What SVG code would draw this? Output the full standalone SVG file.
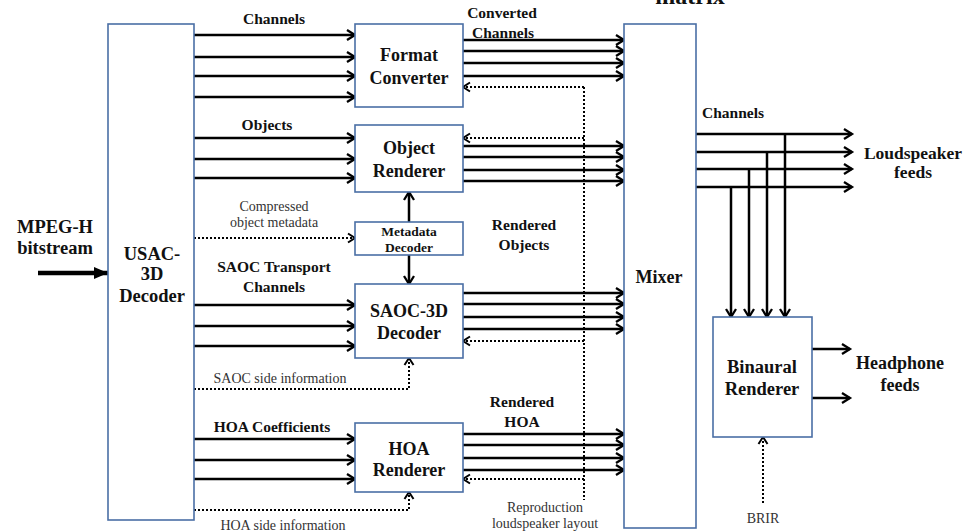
<svg xmlns="http://www.w3.org/2000/svg" width="976" height="531" viewBox="0 0 976 531" font-family="'Liberation Serif', 'Times New Roman', Tinos, serif">
  <style>
    .box { fill: #ffffff; stroke: #4a6fa5; stroke-width: 1.6; }
    text { font-family: 'Liberation Serif', 'Times New Roman', Tinos, serif; }
    .lbl { font-weight: bold; fill: #111; text-anchor: middle; }
    .note { font-size: 14px; fill: #333; text-anchor: middle; }
    .sig { stroke: #000; stroke-width: 2.5; fill: none; marker-end: url(#chev); }
    .line { stroke: #000; stroke-width: 2.5; fill: none; }
    .dot { stroke: #000; stroke-width: 2; stroke-dasharray: 2 2; fill: none; }
    .doth { stroke: #000; stroke-width: 2; stroke-dasharray: 2 2; fill: none; marker-end: url(#chevs); }
  </style>
  <defs>
    <marker id="chev" markerUnits="userSpaceOnUse" markerWidth="14" markerHeight="14" refX="10" refY="7" orient="auto" overflow="visible">
      <path d="M2,2 L10,7 L2,12" fill="none" stroke="#000" stroke-width="2.3"/>
    </marker>
    <marker id="chevs" markerUnits="userSpaceOnUse" markerWidth="12" markerHeight="12" refX="8" refY="6" orient="auto" overflow="visible">
      <path d="M1,1.5 L8,6 L1,10.5" fill="none" stroke="#000" stroke-width="2"/>
    </marker>
    <marker id="solid" markerUnits="userSpaceOnUse" markerWidth="16" markerHeight="16" refX="14" refY="8" orient="auto" overflow="visible">
      <path d="M0,2 L14,8 L0,14 Z" fill="#000"/>
    </marker>
  </defs>

  <rect width="976" height="531" fill="#ffffff"/>

  <!-- partially visible heading at the top edge -->
  <text class="lbl" x="690" y="4" font-size="24">matrix</text>

  <!-- free-standing signal labels -->
  <g id="labels">
    <text class="lbl" x="55" y="233" font-size="18.5">MPEG-H</text>
    <text class="lbl" x="55" y="254" font-size="18.5">bitstream</text>
    <text class="lbl" x="274" y="24" font-size="15.5">Channels</text>
    <text class="lbl" x="502" y="18" font-size="15.5">Converted</text>
    <text class="lbl" x="503" y="38" font-size="15.5">Channels</text>
    <text class="lbl" x="267" y="130" font-size="15.5">Objects</text>
    <text class="note" x="274" y="211">Compressed</text>
    <text class="note" x="274" y="227">object metadata</text>
    <text class="lbl" x="274" y="272" font-size="15.5">SAOC Transport</text>
    <text class="lbl" x="274" y="292" font-size="15.5">Channels</text>
    <text class="lbl" x="524" y="230" font-size="15.5">Rendered</text>
    <text class="lbl" x="524" y="250" font-size="15.5">Objects</text>
    <text class="note" x="280" y="383">SAOC side information</text>
    <text class="lbl" x="272" y="432" font-size="15.5">HOA Coefficients</text>
    <text class="note" x="283" y="530">HOA side information</text>
    <text class="lbl" x="522" y="407" font-size="15.5">Rendered</text>
    <text class="lbl" x="522" y="427" font-size="15.5">HOA</text>
    <text class="note" x="545" y="512">Reproduction</text>
    <text class="note" x="545" y="528">loudspeaker layout</text>
    <text class="lbl" x="733" y="118" font-size="15.5">Channels</text>
    <text class="lbl" x="913" y="159" font-size="17.5">Loudspeaker</text>
    <text class="lbl" x="913" y="178" font-size="17.5">feeds</text>
    <text class="lbl" x="900" y="369" font-size="18">Headphone</text>
    <text class="lbl" x="900" y="391" font-size="18">feeds</text>
    <text class="note" x="763" y="523">BRIR</text>
  </g>

  <!-- connectors -->
  <g id="connectors">
    <!-- bitstream input -->
    <line x1="38" y1="273" x2="108" y2="273" stroke="#000" stroke-width="4.5" marker-end="url(#solid)"/>

    <!-- channels to format converter -->
    <line class="sig" x1="194" y1="35" x2="355" y2="35"/>
    <line class="sig" x1="194" y1="57" x2="355" y2="57"/>
    <line class="sig" x1="194" y1="76" x2="355" y2="76"/>
    <line class="sig" x1="194" y1="97" x2="355" y2="97"/>
    <!-- objects to object renderer -->
    <line class="sig" x1="194" y1="138" x2="355" y2="138"/>
    <line class="sig" x1="194" y1="159" x2="355" y2="159"/>
    <line class="sig" x1="194" y1="178" x2="355" y2="178"/>
    <!-- compressed metadata -->
    <line class="doth" x1="194" y1="238" x2="355" y2="238"/>
    <!-- SAOC transport channels -->
    <line class="sig" x1="194" y1="305" x2="355" y2="305"/>
    <line class="sig" x1="194" y1="326" x2="355" y2="326"/>
    <line class="sig" x1="194" y1="346" x2="355" y2="346"/>
    <!-- SAOC side information -->
    <path class="doth" d="M194,389 H409 V358"/>
    <!-- HOA coefficients -->
    <line class="sig" x1="194" y1="439" x2="355" y2="439"/>
    <line class="sig" x1="194" y1="460" x2="355" y2="460"/>
    <line class="sig" x1="194" y1="479" x2="355" y2="479"/>
    <!-- HOA side information -->
    <path class="doth" d="M194,510 H409 V492"/>

    <!-- metadata decoder outputs -->
    <line class="sig" x1="409" y1="222" x2="409" y2="192"/>
    <line class="sig" x1="409" y1="255" x2="409" y2="284"/>

    <!-- renderer outputs into the mixer -->
    <line class="sig" x1="463" y1="40" x2="624" y2="40"/>
    <line class="sig" x1="463" y1="51" x2="624" y2="51"/>
    <line class="sig" x1="463" y1="63" x2="624" y2="63"/>
    <line class="sig" x1="463" y1="76" x2="624" y2="76"/>

    <line class="sig" x1="463" y1="146" x2="624" y2="146"/>
    <line class="sig" x1="463" y1="157" x2="624" y2="157"/>
    <line class="sig" x1="463" y1="170" x2="624" y2="170"/>
    <line class="sig" x1="463" y1="181" x2="624" y2="181"/>

    <line class="sig" x1="463" y1="293" x2="624" y2="293"/>
    <line class="sig" x1="463" y1="304" x2="624" y2="304"/>
    <line class="sig" x1="463" y1="317" x2="624" y2="317"/>
    <line class="sig" x1="463" y1="329" x2="624" y2="329"/>

    <line class="sig" x1="463" y1="434" x2="624" y2="434"/>
    <line class="sig" x1="463" y1="445" x2="624" y2="445"/>
    <line class="sig" x1="463" y1="458" x2="624" y2="458"/>
    <line class="sig" x1="463" y1="470" x2="624" y2="470"/>

    <!-- reproduction loudspeaker layout feedback -->
    <line class="dot" x1="584" y1="87" x2="584" y2="500"/>
    <line class="doth" x1="584" y1="87" x2="463" y2="87"/>
    <line class="doth" x1="584" y1="138" x2="463" y2="138"/>
    <line class="doth" x1="584" y1="341" x2="463" y2="341"/>
    <line class="doth" x1="584" y1="479" x2="463" y2="479"/>

    <!-- mixer channel outputs -->
    <line class="sig" x1="696" y1="134" x2="852" y2="134"/>
    <line class="sig" x1="696" y1="152" x2="852" y2="152"/>
    <line class="sig" x1="696" y1="169" x2="852" y2="169"/>
    <line class="sig" x1="696" y1="187" x2="852" y2="187"/>
    <!-- taps to the binaural renderer -->
    <line class="sig" x1="785" y1="134" x2="785" y2="317"/>
    <line class="sig" x1="767" y1="152" x2="767" y2="317"/>
    <line class="sig" x1="749" y1="169" x2="749" y2="317"/>
    <line class="sig" x1="731" y1="187" x2="731" y2="317"/>

    <!-- headphone feeds -->
    <line class="sig" x1="812" y1="349" x2="850" y2="349"/>
    <line class="sig" x1="812" y1="398" x2="850" y2="398"/>
    <!-- BRIR -->
    <line class="doth" x1="763" y1="503" x2="763" y2="437"/>
  </g>

  <!-- nodes -->
  <g id="usac-decoder">
    <rect class="box" x="108" y="24" width="86" height="496"/>
    <text class="lbl" x="152" y="260" font-size="18.5">USAC-</text>
    <text class="lbl" x="152" y="280" font-size="18.5">3D</text>
    <text class="lbl" x="152" y="302" font-size="18.5">Decoder</text>
  </g>

  <g id="format-converter">
    <rect class="box" x="355" y="24" width="108" height="83"/>
    <text class="lbl" x="409" y="61" font-size="18">Format</text>
    <text class="lbl" x="409" y="84" font-size="18">Converter</text>
  </g>

  <g id="object-renderer">
    <rect class="box" x="355" y="125" width="108" height="67"/>
    <text class="lbl" x="409" y="154" font-size="18">Object</text>
    <text class="lbl" x="409" y="177" font-size="18">Renderer</text>
  </g>

  <g id="metadata-decoder">
    <rect class="box" x="355" y="222" width="108" height="33"/>
    <text class="lbl" x="409" y="235.5" font-size="13.5">Metadata</text>
    <text class="lbl" x="409" y="251.5" font-size="13.5">Decoder</text>
  </g>

  <g id="saoc-decoder">
    <rect class="box" x="355" y="284" width="108" height="74"/>
    <text class="lbl" x="409" y="317" font-size="18">SAOC-3D</text>
    <text class="lbl" x="409" y="339" font-size="18">Decoder</text>
  </g>

  <g id="hoa-renderer">
    <rect class="box" x="355" y="423" width="108" height="69"/>
    <text class="lbl" x="409" y="455" font-size="18">HOA</text>
    <text class="lbl" x="409" y="476" font-size="18">Renderer</text>
  </g>

  <g id="mixer">
    <rect class="box" x="624" y="24" width="72" height="504"/>
    <text class="lbl" x="659" y="283" font-size="18">Mixer</text>
  </g>

  <g id="binaural-renderer">
    <rect class="box" x="713" y="317" width="99" height="120"/>
    <text class="lbl" x="762" y="373" font-size="18.5">Binaural</text>
    <text class="lbl" x="762" y="395" font-size="18.5">Renderer</text>
  </g>
</svg>
